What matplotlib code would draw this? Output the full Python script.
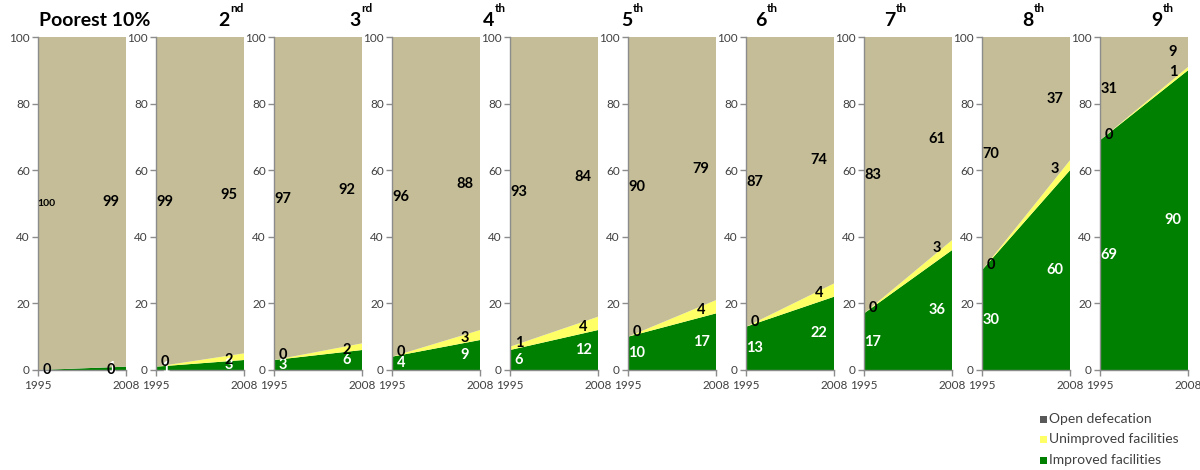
import matplotlib
matplotlib.use("Agg")
import matplotlib.pyplot as plt
from matplotlib.patches import Rectangle

plt.rcParams['font.family'] = ['Lato', 'DejaVu Sans']

# ---------------- data ----------------
years = [1995, 2008]
panel_titles = ["Poorest 10%", "2", "3", "4", "5", "6", "7", "8", "9", ""]
title_suffix = ["", "nd", "rd", "th", "th", "th", "th", "th", "th", ""]

improved_1995 = [0, 1, 3, 4, 6, 10, 13, 17, 30, 69]
improved_2008 = [1, 3, 6, 9, 12, 17, 22, 36, 60, 90]
unimproved_1995 = [0, 0, 0, 0, 1, 0, 0, 0, 0, 0]
unimproved_2008 = [0, 2, 2, 3, 4, 4, 4, 3, 3, 1]
open_def_1995 = [100, 99, 97, 96, 93, 90, 87, 83, 70, 31]
open_def_2008 = [99, 95, 92, 88, 84, 79, 74, 61, 37, 9]

y_ticks = [0, 20, 40, 60, 80, 100]
legend_labels = ["Open defecation", "Unimproved facilities", "Improved facilities"]

# ---------------- style ----------------
C_OD = "#C4BD97"
C_UN = "#FFFF66"
C_IM = "#008000"
C_OD_LEG = "#595959"
AX_COL = "#8C8C8C"
TXT_COL = "#404040"

W, H = 1200, 470
fig = plt.figure(figsize=(12, 4.7), dpi=100)

def fx(px):
    return px / W

def fy(py):
    return 1 - py / H

ax_top, ax_bot = 37, 370
ax_w = 88
pitch = 118
left0 = 38

title_digit_x = [None, 224, 355, 489, 627, 761, 890, 1028, 1157, None]

for i in range(10):
    lpx = left0 + pitch * i
    ax = fig.add_axes([fx(lpx), fy(ax_bot), ax_w / W, (ax_bot - ax_top) / H])
    im = [improved_1995[i], improved_2008[i]]
    un = [unimproved_1995[i], unimproved_2008[i]]
    od = [open_def_1995[i], open_def_2008[i]]
    ax.stackplot(years, im, un, od, colors=[C_IM, C_UN, C_OD], linewidth=0)
    ax.set_xlim(1995, 2008)
    ax.set_ylim(0, 100)
    ax.set_xticks(years)
    ax.set_xticklabels([str(y) for y in years])
    ax.set_yticks(y_ticks)
    for s in ["top", "right"]:
        ax.spines[s].set_visible(False)
    for s in ["left", "bottom"]:
        ax.spines[s].set_color(AX_COL)
        ax.spines[s].set_linewidth(1.0)
    ax.tick_params(axis="both", colors=AX_COL, labelcolor=TXT_COL,
                   labelsize=8.5, length=4, width=1, direction="out")
    ax.tick_params(axis="x", pad=3)
    ax.tick_params(axis="y", pad=2)

    # data labels
    xl = [1996.3, 2005.8]
    un_shift = [1.5, -1.0]
    for k in range(2):
        b_im = im[k] / 2
        b_un = im[k] + un[k] / 2
        if im[k] > 0:
            b_un += un_shift[k]
        b_od = im[k] + un[k] + od[k] / 2
        ax.text(xl[k], b_im, str(im[k]), color="white", fontsize=10.5,
                fontweight="bold", ha="center", va="center", zorder=10, clip_on=False)
        ax.text(xl[k], b_un, str(un[k]), color="black", fontsize=10.5,
                fontweight="bold", ha="center", va="center", zorder=11, clip_on=False)
        fs = 7.5 if od[k] >= 100 else 10.5
        ax.text(xl[k], b_od, str(od[k]), color="black", fontsize=fs,
                fontweight="bold", ha="center", va="center", zorder=12, clip_on=False)

    # titles
    if i == 0:
        fig.text(fx(95), fy(21), panel_titles[i], fontsize=14, fontweight="bold",
                 ha="center", va="center", color="black")
    elif panel_titles[i]:
        dx = title_digit_x[i]
        fig.text(fx(dx), fy(21), panel_titles[i], fontsize=14, fontweight="bold",
                 ha="center", va="center", color="black")
        fig.text(fx(dx + 6), fy(8), title_suffix[i], fontsize=8.5, fontweight="bold",
                 ha="left", va="center", color="black")

# legend
leg_cols = [C_OD_LEG, C_UN, C_IM]
leg_y = [419, 439, 460]
for lab, col, yy in zip(legend_labels, leg_cols, leg_y):
    fig.patches.append(Rectangle((fx(1040), fy(yy + 3.5)), 7 / W, 7 / H,
                                 transform=fig.transFigure, facecolor=col,
                                 edgecolor="none"))
    fig.text(fx(1049), fy(yy), lab, fontsize=10, color=TXT_COL,
             ha="left", va="center")

fig.savefig("out.png", dpi=100)
